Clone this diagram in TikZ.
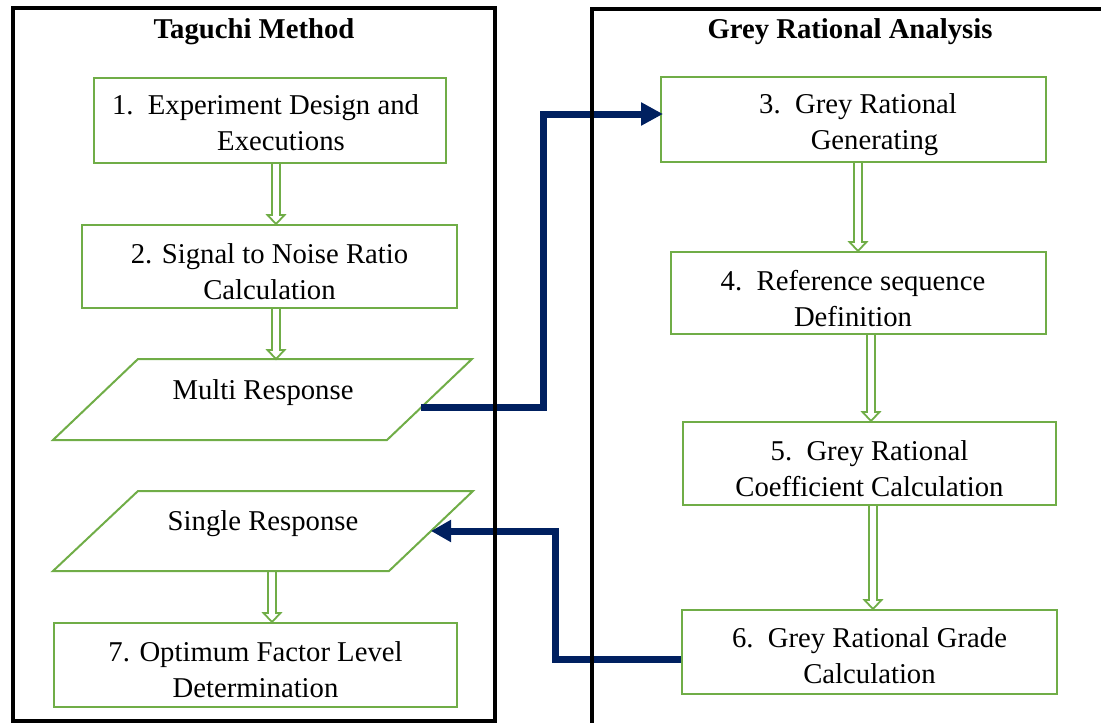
\documentclass[tikz,border=0pt]{standalone}
\usepackage{fontspec}
\setmainfont{Liberation Serif}
\usetikzlibrary{arrows.meta,calc}
\definecolor{gr}{HTML}{70AD47}
\definecolor{nv}{HTML}{002060}
\newcommand\dn{\rule{0pt}{30pt}}
\newcommand\harrow[3]{\draw[garrow] let \p1=(#2), \p2=(#3) in
  ({#1pt-4pt},\y1) -- ({#1pt-4pt},{\y2+9pt}) -- ({#1pt-8.5pt},{\y2+9pt}) -- ({#1pt},\y2)
  -- ({#1pt+8.5pt},{\y2+9pt}) -- ({#1pt+4pt},{\y2+9pt}) -- ({#1pt+4pt},\y1);}
\begin{document}
\begin{tikzpicture}[x=1pt,y=-1pt,
  txt/.style={inner sep=0pt, align=center, font=\fontsize{28.7}{36}\selectfont},
  box/.style={txt, draw=gr, line width=2pt},
  para/.style={draw=gr, line width=2pt, line join=miter},
  garrow/.style={draw=gr, line width=1.8pt, line join=miter},
  conn/.style={draw=nv, line width=7pt, line join=miter},
  frame/.style={draw=black, line width=4pt},
  ttl/.style={inner sep=0pt, font=\fontsize{28.7}{36}\selectfont\bfseries}]
\useasboundingbox (0,0) rectangle (1101,723);

% titles
\node[ttl] (t1) at (254,32) {Taguchi Method};
\node[ttl] (t2) at (850,32) {Grey Rational Analysis};

% left column
\node[box, minimum width=352pt, minimum height=85pt] (b1) at (270,120.5)
  {\rule{0pt}{24pt}1.\ \ Experiment Design and\hspace*{9pt}\\\hspace*{22pt}Executions};
\node[box, minimum width=375pt, minimum height=83pt] (b2) at (269.5,266.5)
  {\dn 2. Signal to Noise Ratio\\Calculation};
\draw[para] (138,359) -- (472,359) -- (387,440) -- (53,440) -- cycle;
\node[txt] (mr) at (263,393) {Multi Response};
\coordinate (mrT) at (276,359);
\coordinate (mrR) at (421,407);
\draw[para] (138,491) -- (473,491) -- (389,571) -- (53,571) -- cycle;
\node[txt] (sr) at (263,524) {Single Response};
\coordinate (srB) at (272,571);
\coordinate (srR) at (431,531);
\node[box, minimum width=403pt, minimum height=84pt] (b7) at (255.5,665)
  {\dn 7. Optimum Factor Level\\Determination};

% right column
\node[box, minimum width=385pt, minimum height=85pt] (b3) at (853.5,119.5)
  {\rule{0pt}{31pt}\hspace*{9pt}3.\ \ Grey Rational\\\hspace*{42pt}Generating};
\node[box, minimum width=375pt, minimum height=82pt] (b4) at (858.5,293)
  {\rule{0pt}{31pt}4.\ \ Reference sequence\hspace*{11pt}\\Definition\hspace*{11pt}};
\node[box, minimum width=373pt, minimum height=83pt] (b5) at (869.5,463.5)
  {\dn 5.\ \ Grey Rational\\Coefficient Calculation};
\node[box, minimum width=375pt, minimum height=84pt] (b6) at (869.5,652)
  {\rule{0pt}{28pt}6.\ \ Grey Rational Grade\\Calculation};

% hollow arrows
\harrow{276}{b1.south}{b2.north}
\harrow{276}{b2.south}{mrT}
\harrow{272}{srB}{b7.north}
\harrow{858}{b3.south}{b4.north}
\harrow{871}{b4.south}{b5.north}
\harrow{873}{b5.south}{b6.north}

% navy connectors
\draw[conn, -{Triangle[length=22pt,width=22pt]}, shorten >=-3pt]
  (mrR) -- ++(122,0) |- ($(b3.west)+(0,-5.5)$);
\draw[conn, -{Triangle[length=20pt,width=21pt]}]
  ($(b6.west)+(0,7)$) -- ++(-126,0) |- (srR);

% frames
\draw[frame] (12.5,8) rectangle (495,720.5);
\draw[frame] (592,9) rectangle (1115,724.5);
\end{tikzpicture}
\end{document}
